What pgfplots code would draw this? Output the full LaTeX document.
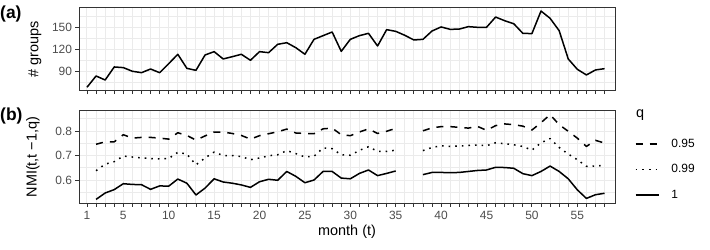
\documentclass[border=0pt]{standalone}
\usepackage{fontspec}
\setmainfont{Liberation Sans}
\usepackage{pgfplots}
\pgfplotsset{compat=1.18}
\usepackage{pgfplotstable}
\definecolor{gridc}{HTML}{EBEBEB}
\definecolor{tickc}{HTML}{4D4D4D}
\definecolor{framec}{HTML}{333333}

\pgfplotstableread{
m g
1 68.2
2 83.6
3 78.1
4 95.9
5 95
6 90
7 88.1
8 93.1
9 88.1
10 100.4
11 113.2
12 94
13 91.3
14 112.2
15 116.8
16 106.8
17 109.9
18 113.2
19 105
20 116.8
21 115.4
22 126.8
23 129
24 122.2
25 113.2
26 133.6
27 138.6
28 143.6
29 117.2
30 133.6
31 138.6
32 141.8
33 124.5
34 146.8
35 144.5
36 139.1
37 132.7
38 133.6
39 145
40 150.5
41 147.2
42 147.6
43 150.9
44 150
45 150
46 164
47 159
48 154.9
49 141.8
50 141.4
51 172.2
52 162.3
53 145.4
54 106.8
55 92.7
56 85
57 91.8
58 93.6
}\topdata

\pgfplotstableread{
m a b c
2 0.746 0.638 0.521
3 0.756 0.665 0.547
4 0.756 0.675 0.561
5 0.785 0.698 0.585
6 0.771 0.694 0.582
7 0.774 0.690 0.581
8 0.774 0.688 0.562
9 0.771 0.686 0.576
10 0.767 0.688 0.575
11 0.793 0.713 0.604
12 0.782 0.706 0.587
13 0.763 0.662 0.539
14 0.780 0.690 0.567
15 0.796 0.714 0.605
16 0.796 0.700 0.592
17 0.790 0.700 0.587
18 0.782 0.696 0.580
19 0.767 0.683 0.570
20 0.781 0.690 0.593
21 0.789 0.699 0.603
22 0.797 0.703 0.599
23 0.808 0.720 0.635
24 0.792 0.708 0.615
25 0.790 0.694 0.589
26 0.789 0.697 0.600
27 0.809 0.731 0.635
28 0.812 0.728 0.635
29 0.785 0.703 0.608
30 0.781 0.701 0.605
31 0.796 0.721 0.627
32 0.809 0.736 0.641
33 0.790 0.717 0.618
34 0.799 0.717 0.627
35 0.811 0.722 0.637
36 nan nan nan
37 nan nan nan
38 0.801 0.720 0.622
39 0.813 0.733 0.631
40 0.818 0.740 0.631
41 0.818 0.737 0.630
42 0.815 0.739 0.631
43 0.812 0.741 0.635
44 0.819 0.743 0.639
45 0.803 0.740 0.641
46 0.822 0.752 0.652
47 0.829 0.748 0.651
48 0.826 0.744 0.648
49 0.820 0.737 0.626
50 0.804 0.722 0.618
51 0.834 0.752 0.635
52 0.867 0.769 0.657
53 0.826 0.733 0.635
54 0.799 0.706 0.605
55 0.771 0.683 0.560
56 0.737 0.656 0.525
57 0.762 0.657 0.540
58 0.751 0.660 0.546
}\botdata

\pgfplotsset{
  ggbase/.style={
    scale only axis, width=536bp, xmin=0.119, xmax=59.15,
    axis line style={framec, line width=0.9bp},
    tick style={framec, line width=0.9bp},
    tick align=outside, tick pos=left,
    major tick length=3.5bp, minor tick length=3.5bp,
    xtick={1,5,10,...,55}, minor xtick={1,...,58},
    grid=both,
    major grid style={gridc, line width=1bp},
    minor grid style={gridc, line width=1bp},
    minor y tick style={draw=none},
    ticklabel style={font=\fontsize{12}{12}\selectfont, text=tickc},
    /pgf/number format/assume math mode=true,
    label style={font=\fontsize{14.5}{15}\selectfont},
    unbounded coords=jump,
  }
}

\begin{document}
\begin{tikzpicture}
\path[use as bounding box] (0,0) rectangle (710bp,-250bp);

\begin{axis}[ggbase,
  at={(79bp,-7.3bp)}, anchor=north west, height=83.4bp,
  ymin=63.5, ymax=177.3,
  ytick={90,120,150}, minor ytick={75,105,135,165},
  xticklabels={},
  ylabel={\# groups},
  ylabel style={at={(axis description cs:-0.082,0.5)}, anchor=center, rotate=0},
]
\addplot[black, line width=1.5bp, line join=round] table[x=m,y=g]{\topdata};
\end{axis}

\begin{axis}[ggbase,
  at={(79bp,-110.7bp)}, anchor=north west, height=92.6bp,
  ymin=0.505, ymax=0.883,
  ytick={0.6,0.7,0.8}, minor ytick={0.55,0.65,0.75,0.85},
  yticklabel style={/pgf/number format/.cd, fixed, precision=1, fixed zerofill},
  xticklabel style={yshift=-1bp},
  xlabel={month (t)},
  xlabel style={at={(axis description cs:0.5,-0.307)}, anchor=center},
  ylabel={NMI(t,t −1,q)},
  ylabel style={at={(axis description cs:-0.0858,0.5)}, anchor=center},
  legend style={at={(axis description cs:1.0373,0.778)}, anchor=north west,
    draw=none, fill=none, inner sep=0pt, outer sep=0pt, row sep=0pt,
    column sep=12bp, font=\fontsize{12}{12}\selectfont,
    nodes={inner sep=0pt, minimum height=25.5bp}},
  legend cell align=left,
  legend image code/.code={\draw[#1] (0bp,0bp) -- (23bp,0bp);},
]
\addplot[black, line width=1.5bp, line join=round, dash pattern=on 7bp off 7bp] table[x=m,y=a]{\botdata};
\addlegendentry{0.95}
\addplot[black, line width=1.5bp, line join=round, dash pattern=on 1.6bp off 5bp] table[x=m,y=b]{\botdata};
\addlegendentry{0.99}
\addplot[black, line width=1.5bp, line join=round] table[x=m,y=c]{\botdata};
\addlegendentry{1}
\end{axis}

\node[font=\bfseries\fontsize{17.5}{18}\selectfont, anchor=west, inner sep=0pt] at (0bp,-14bp) {(a)};
\node[font=\bfseries\fontsize{17.5}{18}\selectfont, anchor=west, inner sep=0pt] at (0bp,-116bp) {(b)};
\node[font=\fontsize{14.5}{15}\selectfont, anchor=west, inner sep=0pt] at (636bp,-115bp) {q};
\end{tikzpicture}
\end{document}
